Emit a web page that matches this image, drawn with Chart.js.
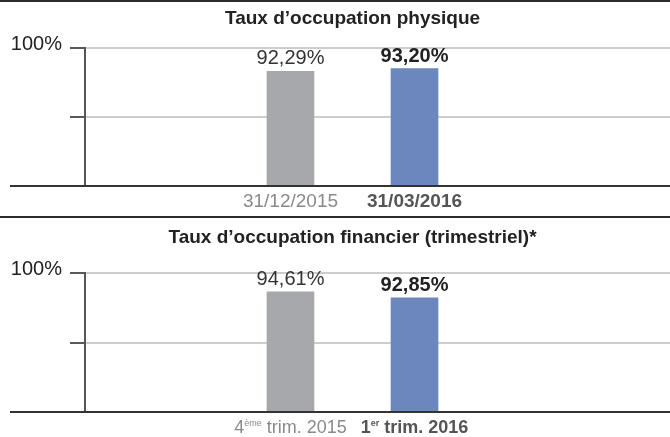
<!DOCTYPE html>
<html>
<head>
<meta charset="utf-8">
<script src="https://cdn.jsdelivr.net/npm/chart.js@4/dist/chart.umd.min.js"></script>
<style>
  html, body { margin: 0; padding: 0; background: #fff; }
  #wrap { position: relative; width: 670px; height: 437px; overflow: hidden; background: #fff; }
  canvas { position: absolute; left: 0; display: block; }
  .rule { position: absolute; left: 0; width: 670px; height: 2px; background: #2c2c2c; }
</style>
</head>
<body>
<div id="wrap">
  <canvas id="c1" width="670" height="216" style="top:0"></canvas>
  <canvas id="c2" width="670" height="219" style="top:218px"></canvas>
  <div class="rule" style="top:0"></div>
  <div class="rule" style="top:216px"></div>
</div>
<script>
// ---- data ----
const topTitle = 'Taux d’occupation physique';
const topCategories = [['31/12/2015'], ['31/03/2016']];
const topValues = [92.29, 93.20];

const bottomTitle = 'Taux d’occupation financier (trimestriel)*';
// parts: [normal, superscript, normal]
const bottomCategories = [['4', 'ème', ' trim. 2015'], ['1', 'er', ' trim. 2016']];
const bottomValues = [94.61, 92.85];

const yMaxValue = 100;
const yTickLabel = '100%';

// ---- styles ----
const FONT = '"Liberation Sans", Arial, Helvetica, sans-serif';
const barColors = ['#a7a8ab', '#6b87bd'];
const valueStyles = [{w: 'normal', c: '#333333'}, {w: 'bold', c: '#222222'}];
const catStyles = [{w: 'normal', c: '#8a8a8a'}, {w: 'bold', c: '#555555'}];

function fmt(v) { return v.toFixed(2).replace('.', ',') + '%'; }

function drawParts(ctx, parts, cx, y, weight, color, size) {
  const supSize = Math.round(size * 0.5);
  const fonts = parts.map((p, i) => (i % 2 === 1)
      ? weight + ' ' + supSize + 'px ' + FONT
      : weight + ' ' + size + 'px ' + FONT);
  let total = 0;
  const widths = parts.map((p, i) => { ctx.font = fonts[i]; const w = ctx.measureText(p).width; total += w; return w; });
  let x = cx - total / 2;
  ctx.fillStyle = color;
  ctx.textAlign = 'left';
  ctx.textBaseline = 'alphabetic';
  parts.forEach((p, i) => {
    ctx.font = fonts[i];
    ctx.fillText(p, x, (i % 2 === 1) ? y - Math.round(size * 0.4) : y);
    x += widths[i];
  });
}

function makeChart(id, title, categories, values, opt) {
  const deco = {
    id: 'deco' + id,
    afterDraw(chart) {
      const ctx = chart.ctx;
      const ca = chart.chartArea;
      const xs = chart.scales.x;
      ctx.save();
      // baseline extending left of the axis
      ctx.strokeStyle = '#333333';
      ctx.lineWidth = 2;
      ctx.beginPath();
      ctx.moveTo(10, ca.bottom);
      ctx.lineTo(chart.width, ca.bottom);
      ctx.stroke();
      // value labels
      const meta = chart.getDatasetMeta(0);
      meta.data.forEach((bar, i) => {
        ctx.font = valueStyles[i].w + ' 20px ' + FONT;
        ctx.fillStyle = valueStyles[i].c;
        ctx.textAlign = 'center';
        ctx.textBaseline = 'alphabetic';
        ctx.fillText(fmt(values[i]), bar.x, bar.y - 7);
      });
      // category labels
      categories.forEach((parts, i) => {
        drawParts(ctx, parts, xs.getPixelForValue(i), ca.bottom + 21,
                  catStyles[i].w, catStyles[i].c, opt.catSize);
      });
      // title, centred between the two bars
      const tx = (xs.getPixelForValue(0) + xs.getPixelForValue(categories.length - 1)) / 2;
      ctx.font = 'bold 19px ' + FONT;
      ctx.fillStyle = '#222222';
      ctx.textAlign = 'center';
      ctx.textBaseline = 'alphabetic';
      ctx.fillText(title, tx, opt.titleY);
      ctx.restore();
    }
  };

  return new Chart(document.getElementById(id), {
    type: 'bar',
    data: {
      datasets: [{
        data: values.map((v, i) => ({x: i, y: v})),
        backgroundColor: barColors,
        borderWidth: 0,
        barThickness: 47
      }]
    },
    options: {
      responsive: false,
      animation: false,
      events: [],
      layout: { padding: { top: opt.padTop, bottom: opt.padBottom, left: 0, right: 0 } },
      plugins: { legend: { display: false }, tooltip: { enabled: false }, title: { display: false } },
      scales: {
        x: {
          type: 'linear',
          min: -1.657,
          max: 3.06,
          offset: false,
          bounds: 'data',
          display: false
        },
        y: {
          min: opt.yMin,
          max: yMaxValue,
          afterBuildTicks(scale) {
            scale.ticks = [
              {value: opt.yMin},
              {value: (opt.yMin + yMaxValue) / 2},
              {value: yMaxValue}
            ];
          },
          afterFit(scale) { scale.width = 85; },
          ticks: {
            padding: 8,
            labelOffset: -4,
            color: '#222222',
            font: { family: FONT, size: 20 },
            callback: (v) => (v === yMaxValue ? yTickLabel : '')
          },
          grid: {
            color: (c) => (c.tick && c.tick.value === opt.yMin) ? 'rgba(0,0,0,0)' : '#cdcdcd',
            lineWidth: 2,
            drawTicks: true,
            tickLength: 15,
            tickColor: '#222222',
            tickWidth: 1.5
          },
          border: { display: true, color: '#555555', width: 2 }
        }
      }
    },
    plugins: [deco]
  });
}

makeChart('c1', topTitle, topCategories, topValues,
  { yMin: 54.5, padTop: 48, padBottom: 30, titleY: 24, catSize: 19 });
makeChart('c2', bottomTitle, bottomCategories, bottomValues,
  { yMin: 60, padTop: 55, padBottom: 25, titleY: 25, catSize: 18 });
</script>
</body>
</html>
